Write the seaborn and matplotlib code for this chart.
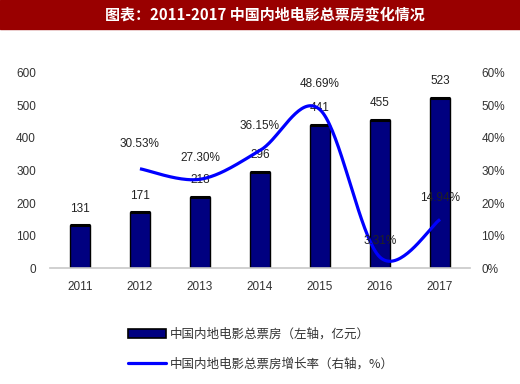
import numpy as np
import matplotlib
matplotlib.use("Agg")
import matplotlib.pyplot as plt
import seaborn as sns
from matplotlib.patches import Rectangle, Patch
from matplotlib.lines import Line2D

years = ["2011", "2012", "2013", "2014", "2015", "2016", "2017"]
box_office = [131, 171, 218, 296, 441, 455, 523]
growth_years = ["2012", "2013", "2014", "2015", "2016", "2017"]
growth = [30.53, 27.30, 36.15, 48.69, 3.31, 14.94]
left_ticks = [0, 100, 200, 300, 400, 500, 600]
right_ticks = [0, 10, 20, 30, 40, 50, 60]
title = "图表：2011-2017 中国内地电影总票房变化情况"
legend_bar = "中国内地电影总票房（左轴，亿元）"
legend_line = "中国内地电影总票房增长率（右轴，%）"

sns.set_theme(style="white")
plt.rcParams['font.family'] = ['Liberation Sans', 'Noto Sans CJK SC', 'DejaVu Sans']
cjk = ['Noto Sans CJK SC', 'DejaVu Sans']

fig = plt.figure(figsize=(5.2, 3.84), dpi=100)
ax = fig.add_axes([0.096, 0.302, 0.808, 0.508])

sns.barplot(x=years, y=box_office, color="#000080", width=0.33,
            edgecolor="black", linewidth=1.0, saturation=1, ax=ax)
ax.set_ylim(0, 600)
ax.set_xlim(-0.5, 6.5)
ax.set_yticks(left_ticks)
ax.set_yticklabels([str(t) for t in left_ticks])
for s in ["top", "right", "left"]:
    ax.spines[s].set_visible(False)
ax.spines["bottom"].set_color("#c8c8c8")
ax.spines["bottom"].set_linewidth(1.2)
ax.tick_params(axis="both", length=0, labelsize=8.5, colors="#333333")
ax.tick_params(axis="y", pad=10)
ax.tick_params(axis="x", pad=9)
ax.set_xlabel("")
ax.set_ylabel("")

# thicker dark top edge on each bar, as in the reference
for p in ax.patches:
    ax.plot([p.get_x(), p.get_x() + p.get_width()], [p.get_height(), p.get_height()],
            color="black", lw=2.2, solid_capstyle="butt")

for i, v in enumerate(box_office):
    ax.text(i, v + 52, str(v), ha="center", va="center", fontsize=8.5, color="#222222")

# right axis: smoothed growth line (Catmull-Rom style smoothing)
ax2 = ax.twinx()
ax2.set_position(ax.get_position())
xs = np.array([years.index(y) for y in growth_years], dtype=float)
ys = np.array(growth, dtype=float)
px = np.concatenate([[xs[0]], xs, [xs[-1]]])
py = np.concatenate([[ys[0]], ys, [ys[-1]]])
cx, cy = [], []
t = np.linspace(0, 1, 40)
for i in range(1, len(px) - 2):
    p0 = np.array([px[i], py[i]]); p3 = np.array([px[i + 1], py[i + 1]])
    p1 = p0 + (np.array([px[i + 1], py[i + 1]]) - np.array([px[i - 1], py[i - 1]])) / 6
    p2 = p3 - (np.array([px[i + 2], py[i + 2]]) - np.array([px[i], py[i]])) / 6
    b = ((1 - t) ** 3)[:, None] * p0 + (3 * (1 - t) ** 2 * t)[:, None] * p1 + \
        (3 * (1 - t) * t ** 2)[:, None] * p2 + (t ** 3)[:, None] * p3
    cx.extend(b[:, 0]); cy.extend(b[:, 1])
ax2.plot(cx, cy, color="#0000FF", lw=2.3, solid_capstyle="butt")
ax2.set_ylim(0, 60)
ax2.set_yticks(right_ticks)
ax2.set_yticklabels([f"{t}%" for t in right_ticks])
for s in ["top", "right", "left", "bottom"]:
    ax2.spines[s].set_visible(False)
ax2.tick_params(axis="y", length=0, labelsize=8.5, colors="#333333", pad=8)
ax2.grid(False)

label_offsets = [7.5, 6.5, 7.5, 8.0, 5.0, 6.5]
for x, v, off in zip(xs, ys, label_offsets):
    ax2.text(x, v + off, f"{v:.2f}%", ha="center", va="center", fontsize=8.5, color="#222222")

# title bar
fig.patches.append(Rectangle((0, 1 - 29 / 384), 1, 29 / 384, transform=fig.transFigure,
                             color="#990000", zorder=0))
fig.text(0.51, 1 - 14.5 / 384, title, ha="center", va="center", color="white",
         fontsize=10.8, fontweight="bold", family=cjk)

handles = [Patch(facecolor="#000080", edgecolor="black", linewidth=1.2),
           Line2D([0], [0], color="#0000FF", lw=2.3)]
leg = fig.legend(handles, [legend_bar, legend_line], loc="upper left",
                 bbox_to_anchor=(0.225, 0.175), frameon=False, handlelength=3.0,
                 handleheight=0.8, handletextpad=0.3, labelspacing=1.3,
                 prop={"family": cjk, "size": 9})
for txt in leg.get_texts():
    txt.set_color("#333333")

fig.savefig("out.png", dpi=100)
